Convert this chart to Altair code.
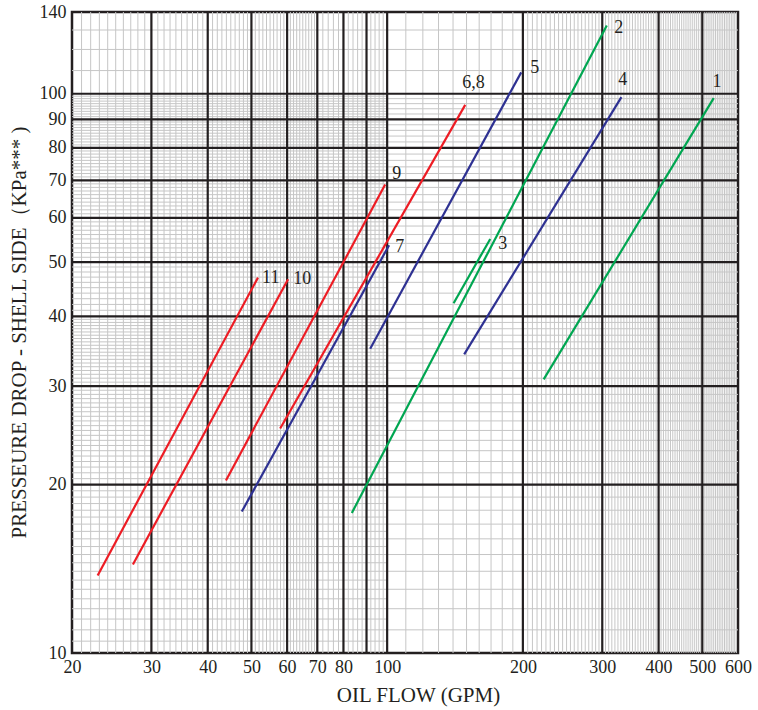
import altair as alt
import numpy as np
import pandas as pd

# ---- curves ----
series = ["1", "2", "3", "4", "5", "6,8", "7", "9", "10", "11"]
hue = ["green", "green", "green", "blue", "blue", "red", "blue", "red", "red", "red"]
x_start = [222.4, 83.5, 140.4, 148.2, 91.7, 57.9, 47.6, 43.9, 27.3, 22.8]
y_start = [30.85, 17.8, 42.2, 34.2, 35.0, 25.2, 17.9, 20.35, 14.4, 13.76]
x_end = [530.0, 307.0, 169.3, 330.8, 198.3, 149.0, 101.0, 99.0, 60.3, 51.7]
y_end = [98.2, 132.4, 55.0, 98.6, 109.2, 95.5, 53.6, 68.8, 46.6, 46.9]
label_x = [526.6, 318.9, 176.4, 325.5, 207.6, 146.8, 104.2, 102.6, 61.9, 52.8]
label_y = [105.1, 131.3, 53.8, 105.6, 111.4, 104.3, 53.1, 72.0, 46.6, 46.9]

# ---- axes ----
x_ticks = [20, 30, 40, 50, 60, 70, 80, 100, 200, 300, 400, 500, 600]
y_ticks = [10, 20, 30, 40, 50, 60, 70, 80, 90, 100, 140]
x_major = [30, 40, 50, 60, 70, 80, 90, 100, 200, 300, 400, 500]
y_major = [20, 30, 40, 50, 60, 70, 80, 90, 100]

# ---- log-paper minor grid (interval, step) ----
vg_from = [20, 50, 70, 90, 100, 200]
vg_to = [50, 70, 90, 100, 200, 600]
vg_step = [1, 1, 2, 2, 10, 5]

hg_xfrom = [20, 20, 20, 20, 100, 100, 100]
hg_xto = [100, 100, 100, 100, 600, 600, 600]
hg_yfrom = [10, 40, 70, 100, 10, 40, 100]
hg_yto = [40, 70, 100, 140, 40, 100, 140]
hg_step = [0.5, 1, 1, 10, 1, 2, 10]

XD = [20, 600]
YD = [10, 140]
INK = "#231f20"
GRID = "#c6c6c6"
FONT = "Liberation Serif"

xs = alt.Scale(type="log", domain=XD, nice=False)
ys = alt.Scale(type="log", domain=YD, nice=False)

vrows = []
for a, b, s in zip(vg_from, vg_to, vg_step):
    for v in np.arange(a, b, s)[1:]:
        vrows.append({"v": float(v)})
vgrid = pd.DataFrame(vrows)

hrows = []
for xa, xb, a, b, s in zip(hg_xfrom, hg_xto, hg_yfrom, hg_yto, hg_step):
    for v in np.arange(a, b, s)[1:]:
        hrows.append({"v": float(v), "x0": xa, "x1": xb})
hgrid = pd.DataFrame(hrows)

minor_v = alt.Chart(vgrid).mark_rule(color=GRID, strokeWidth=1).encode(
    x=alt.X("v:Q", scale=xs,
            axis=alt.Axis(values=x_ticks, format="d", title="OIL FLOW (GPM)",
                          labelFlush=False, labelOverlap=False))
)
minor_h = alt.Chart(hgrid).mark_rule(color=GRID, strokeWidth=1).encode(
    y=alt.Y("v:Q", scale=ys,
            axis=alt.Axis(values=y_ticks, format="d",
                          title="PRESSEURE DROP - SHELL SIDE（KPa*** )",
                          labelOverlap=False)),
    x=alt.X("x0:Q", scale=xs), x2="x1:Q",
)
major_v = alt.Chart(pd.DataFrame({"v": x_major})).mark_rule(
    color=INK, strokeWidth=2.2).encode(x=alt.X("v:Q", scale=xs))
major_h = alt.Chart(pd.DataFrame({"v": y_major})).mark_rule(
    color=INK, strokeWidth=2.2).encode(y=alt.Y("v:Q", scale=ys))

rows = []
for s, h, xa, ya, xb, yb in zip(series, hue, x_start, y_start, x_end, y_end):
    rows.append({"s": s, "hue": h, "x": xa, "y": ya, "o": 0})
    rows.append({"s": s, "hue": h, "x": xb, "y": yb, "o": 1})
ldf = pd.DataFrame(rows)

lines = alt.Chart(ldf).mark_line(strokeWidth=2.2).encode(
    x=alt.X("x:Q", scale=xs),
    y=alt.Y("y:Q", scale=ys),
    detail="s:N",
    order="o:Q",
    color=alt.Color("hue:N", legend=None,
                    scale=alt.Scale(domain=["red", "green", "blue"],
                                    range=["#ed1c24", "#00a651", "#2e3192"])),
)

tdf = pd.DataFrame({"s": series, "x": label_x, "y": label_y})
labels = alt.Chart(tdf).mark_text(align="left", baseline="middle", font=FONT,
                                  fontSize=18, color=INK).encode(
    x=alt.X("x:Q", scale=xs), y=alt.Y("y:Q", scale=ys), text="s:N")

chart = alt.layer(minor_v, minor_h, major_v, major_h, lines, labels).properties(
    width=666, height=641,
    autosize=alt.AutoSizeParams(type="none"),
    padding={"left": 72, "top": 12, "right": 20, "bottom": 57},
).configure_view(stroke=INK, strokeWidth=2.5).configure_axis(
    grid=False, ticks=False, domain=False,
    labelFont=FONT, labelFontSize=18, labelColor=INK,
    titleFont=FONT, titleFontSize=21, titleColor=INK, titleFontWeight="normal",
).configure_axisX(
    labelPadding=5, titleX=346, titleY=42, titleBaseline="middle", titleAlign="center",
).configure_axisY(
    labelPadding=6, titleX=-53, titleY=320, titleAngle=-90,
    titleBaseline="middle", titleAlign="center",
)

chart.save("out.html", embed_options={"renderer": "svg", "actions": False})
